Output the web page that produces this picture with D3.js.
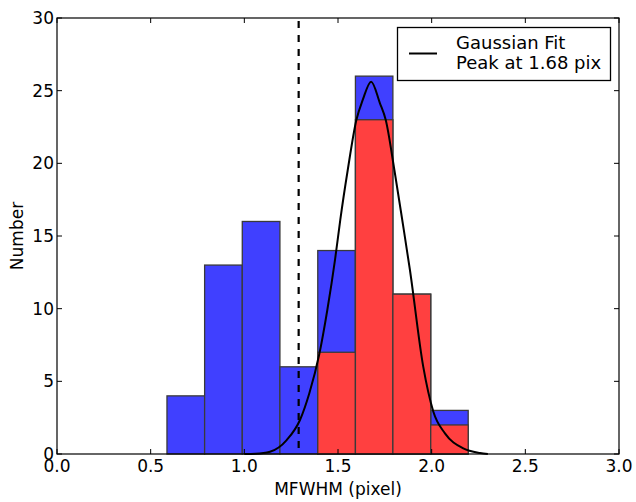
<!DOCTYPE html>
<html>
<head>
<meta charset="utf-8">
<script src="https://cdn.jsdelivr.net/npm/d3@7"></script>
<style>
  html, body { margin: 0; padding: 0; background: #fff; }
  svg { display: block; font-family: "DejaVu Sans", sans-serif; }
</style>
</head>
<body>
<svg id="chart" width="636" height="502"></svg>
<script>
// ---- data ----
const binEdges = [0.587, 0.788, 0.989, 1.190, 1.392, 1.593, 1.793, 1.995, 2.195];
const totalCounts = [4, 13, 16, 6, 14, 26, 11, 3];   // blue (all)
const redCounts   = [0, 0, 0, 0, 7, 23, 11, 2];      // red subset
const cutoffX = 1.29;                                 // dashed vertical line
const fitX = [1.00, 1.06, 1.137, 1.226, 1.297, 1.347, 1.400, 1.443, 1.484, 1.512, 1.552, 1.598, 1.632, 1.677, 1.724, 1.755, 1.801, 1.843, 1.884, 1.955, 2.009, 2.071, 2.169, 2.258, 2.30];
const fitY = [0.00, 0.02, 0.16, 0.96, 2.34, 4.18, 6.86, 9.91, 13.35, 16.10, 19.54, 22.98, 24.36, 25.62, 24.13, 22.98, 19.54, 16.10, 12.66, 6.01, 2.91, 1.42, 0.39, 0.07, 0.00];
const xTicks = [0.0, 0.5, 1.0, 1.5, 2.0, 2.5, 3.0];
const yTicks = [0, 5, 10, 15, 20, 25, 30];
const legendLabels = ["Gaussian Fit", "Peak at 1.68 pix"];
const xLabel = "MFWHM (pixel)";
const yLabel = "Number";

// ---- layout ----
const L = 57, R = 619, T = 18, B = 454;
const svg = d3.select("#chart");
const x = d3.scaleLinear().domain([0, 3]).range([L, R]);
const y = d3.scaleLinear().domain([0, 30]).range([B, T]);

const bins = totalCounts.map((c, i) => ({x0: binEdges[i], x1: binEdges[i + 1], total: c, red: redCounts[i]}));

const g = svg.append("g");
// blue bars (total)
g.selectAll("rect.blue").data(bins.filter(d => d.total > 0)).enter().append("rect")
  .attr("x", d => x(d.x0)).attr("width", d => x(d.x1) - x(d.x0))
  .attr("y", d => y(d.total)).attr("height", d => y(0) - y(d.total))
  .attr("fill", "#4040ff").attr("stroke", "#3a3a3a").attr("stroke-width", 1.3);
// red bars (subset)
g.selectAll("rect.red").data(bins.filter(d => d.red > 0)).enter().append("rect")
  .attr("x", d => x(d.x0)).attr("width", d => x(d.x1) - x(d.x0))
  .attr("y", d => y(d.red)).attr("height", d => y(0) - y(d.red))
  .attr("fill", "#ff4040").attr("stroke", "#3a3a3a").attr("stroke-width", 1.3);

// dashed line
svg.append("line")
  .attr("x1", x(cutoffX)).attr("x2", x(cutoffX)).attr("y1", y(30)).attr("y2", y(0))
  .attr("stroke", "#000").attr("stroke-width", 2.2).attr("stroke-dasharray", "7,7")
  .attr("stroke-dashoffset", -3);

// gaussian fit curve
const fitPts = fitX.map((v, i) => [v, fitY[i]]);
svg.append("path").datum(fitPts)
  .attr("d", d3.line().x(d => x(d[0])).y(d => y(d[1])).curve(d3.curveMonotoneX))
  .attr("fill", "none").attr("stroke", "#000").attr("stroke-width", 2);

// frame
svg.append("rect").attr("x", L).attr("y", T).attr("width", R - L).attr("height", B - T)
  .attr("fill", "none").attr("stroke", "#000").attr("stroke-width", 1.2);

// ticks (inside, all sides)
const tl = 5;
const tk = svg.append("g").attr("stroke", "#000").attr("stroke-width", 1);
xTicks.forEach(t => {
  tk.append("line").attr("x1", x(t)).attr("x2", x(t)).attr("y1", B).attr("y2", B - tl);
  tk.append("line").attr("x1", x(t)).attr("x2", x(t)).attr("y1", T).attr("y2", T + tl);
});
yTicks.forEach(t => {
  tk.append("line").attr("x1", L).attr("x2", L + tl).attr("y1", y(t)).attr("y2", y(t));
  tk.append("line").attr("x1", R).attr("x2", R - tl).attr("y1", y(t)).attr("y2", y(t));
});

// tick labels
svg.append("g").selectAll("text").data(xTicks).enter().append("text")
  .attr("x", d => x(d)).attr("y", 472)
  .attr("text-anchor", "middle").attr("font-size", 17).attr("fill", "#000")
  .text(d => d3.format(".1f")(d));
svg.append("g").selectAll("text").data(yTicks).enter().append("text")
  .attr("x", L - 3).attr("y", d => y(d)).attr("dy", "0.35em")
  .attr("text-anchor", "end").attr("font-size", 17).attr("fill", "#000")
  .text(d => d);

// axis labels
svg.append("text").attr("x", (L + R) / 2).attr("y", 495)
  .attr("text-anchor", "middle").attr("font-size", 17).text(xLabel);
svg.append("text").attr("transform", `translate(23,${(T + B) / 2}) rotate(-90)`)
  .attr("text-anchor", "middle").attr("font-size", 17).text(yLabel);

// legend
const lg = svg.append("g");
lg.append("rect").attr("x", 397.5).attr("y", 27.5).attr("width", 213).attr("height", 53)
  .attr("fill", "#fff").attr("stroke", "#000").attr("stroke-width", 1.3);
lg.append("line").attr("x1", 409).attr("x2", 437).attr("y1", 53.5).attr("y2", 53.5)
  .attr("stroke", "#000").attr("stroke-width", 2);
lg.selectAll("text").data(legendLabels).enter().append("text")
  .attr("x", 456).attr("y", (d, i) => 48.5 + i * 20)
  .attr("font-size", 18).attr("fill", "#000").text(d => d);
</script>
</body>
</html>
